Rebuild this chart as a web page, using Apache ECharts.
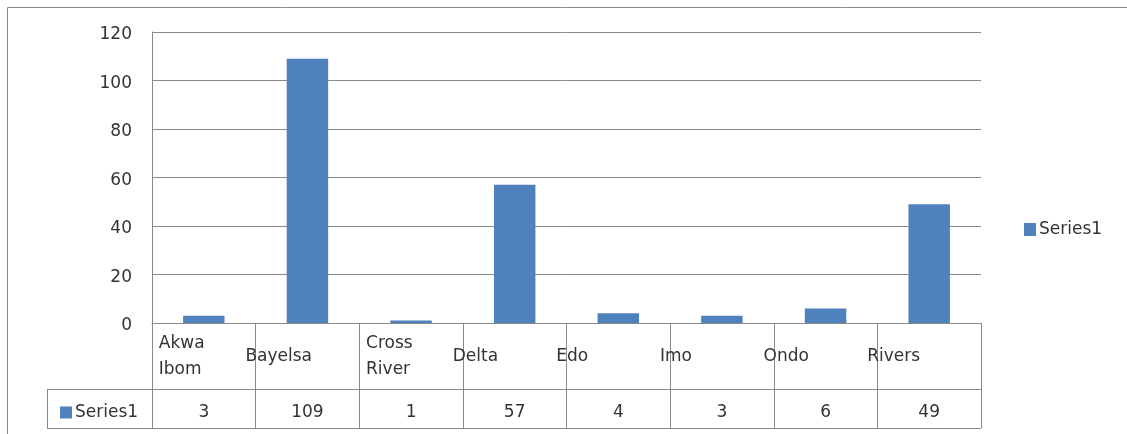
<!DOCTYPE html>
<html>
<head>
<meta charset="utf-8">
<script src="https://cdn.jsdelivr.net/npm/echarts@6/dist/echarts.min.js"></script>
<style>
  html, body { margin: 0; padding: 0; background: #fff; }
  #main { width: 1127px; height: 434px; }
</style>
</head>
<body>
<div id="main"></div>
<script>
// data
const categories = ['Akwa Ibom', 'Bayelsa', 'Cross River', 'Delta', 'Edo', 'Imo', 'Ondo', 'Rivers'];
const series1 = [3, 109, 1, 57, 4, 3, 6, 49];
const seriesName = 'Series1';
const yMin = 0, yMax = 120, yStep = 20;

const font = 'DejaVu Sans';
const textColor = '#333';
const lineColor = '#8a8a8a';
const barColor = '#4F81BD';

// plot area (px)
const plot = { left: 152, right: 981, top: 32, bottom: 323 };
const rowLine = 389;   // between category row and value row
const tableBottom = 428;
const tableLeft = 47;

let myChart = echarts.init(document.getElementById('main'));

myChart.setOption({
  animation: false,
  textStyle: { fontFamily: font },
  grid: {
    left: plot.left,
    right: 1127 - plot.right,
    top: plot.top,
    bottom: 434 - plot.bottom,
    containLabel: false
  },
  legend: [
    {
      data: [seriesName],
      left: 1019,
      top: 216,
      icon: 'rect',
      itemWidth: 12,
      itemHeight: 13,
      itemGap: 4,
      textStyle: { fontFamily: font, fontSize: 17, color: textColor, padding: [0, 0, 0, -2] }
    },
    {
      data: [seriesName],
      left: 55,
      top: 399,
      icon: 'rect',
      itemWidth: 12,
      itemHeight: 12,
      selectedMode: false,
      textStyle: { fontFamily: font, fontSize: 17, color: textColor, padding: [0, 0, 0, -2] }
    }
  ],
  xAxis: [
    {
      type: 'category',
      data: categories,
      boundaryGap: true,
      axisLine: { lineStyle: { color: lineColor, width: 1 } },
      axisTick: { show: true, interval: 0, length: tableBottom - plot.bottom, lineStyle: { color: lineColor } },
      axisLabel: {
        interval: 0,
        margin: 34,
        align: 'center',
        verticalAlign: 'middle',
        color: textColor,
        fontFamily: font,
        fontSize: 17,
        formatter: (v) => {
          // two-word names wrap inside the cell, one-word names spill a little left
          if (v.indexOf(' ') > -1) {
            return v.split(' ').map((w) => '{two|' + w + '}').join('\n');
          }
          return '{one|' + v + '}';
        },
        rich: {
          one: { width: 124, align: 'left', fontFamily: font, fontSize: 17, color: textColor, lineHeight: 26 },
          two: { width: 90, align: 'left', fontFamily: font, fontSize: 17, color: textColor, lineHeight: 26 }
        }
      }
    },
    {
      // value row of the data table
      type: 'category',
      data: categories,
      position: 'bottom',
      axisLine: { show: false },
      axisTick: { show: false },
      axisLabel: {
        interval: 0,
        margin: 90,
        verticalAlign: 'middle',
        color: textColor,
        fontFamily: font,
        fontSize: 17,
        formatter: (v, i) => String(series1[i])
      }
    }
  ],
  yAxis: {
    type: 'value',
    min: yMin,
    max: yMax,
    interval: yStep,
    axisLine: { show: true, lineStyle: { color: lineColor } },
    axisTick: { show: false },
    splitLine: { lineStyle: { color: lineColor, width: 1 } },
    axisLabel: {
      margin: 20,
      color: textColor,
      fontFamily: font,
      fontSize: 17,
      formatter: '{t|{value}}',
      rich: { t: { fontFamily: font, fontSize: 17, color: textColor, padding: [6, 0, 0, 0] } }
    }
  },
  series: [
    {
      name: seriesName,
      type: 'bar',
      xAxisIndex: 0,
      data: series1,
      barWidth: '40%',
      itemStyle: { color: barColor }
    }
  ],
  graphic: [
    // chart area frame (cropped at right / bottom)
    { type: 'rect', shape: { x: 7.5, y: 7.5, width: 1300, height: 600 }, style: { fill: null, stroke: lineColor, lineWidth: 1 }, silent: true },
    // data table rows
    { type: 'line', shape: { x1: tableLeft, y1: rowLine + 0.5, x2: plot.right, y2: rowLine + 0.5 }, style: { stroke: lineColor, lineWidth: 1 } },
    { type: 'line', shape: { x1: tableLeft, y1: tableBottom + 0.5, x2: plot.right, y2: tableBottom + 0.5 }, style: { stroke: lineColor, lineWidth: 1 } },
    { type: 'line', shape: { x1: tableLeft + 0.5, y1: rowLine, x2: tableLeft + 0.5, y2: tableBottom }, style: { stroke: lineColor, lineWidth: 1 } }
  ]
});

window.addEventListener('resize', () => {
  myChart.resize();
});
</script>
</body>
</html>
